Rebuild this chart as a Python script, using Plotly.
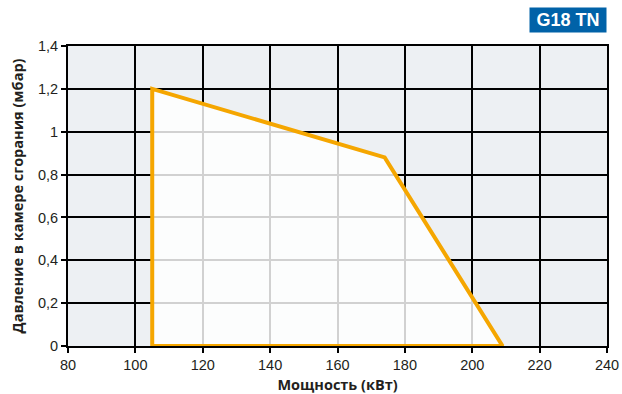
import plotly.graph_objects as go

# Data
power_kw = [105.0, 105.0, 174.0, 209.0, 105.0]
pressure_mbar = [0.0, 1.2, 0.88, 0.0, 0.0]

x_ticks = [80, 100, 120, 140, 160, 180, 200, 220, 240]
y_ticks = [0, 0.2, 0.4, 0.6, 0.8, 1.0, 1.2, 1.4]
y_tick_labels = ["0", "0,2", "0,4", "0,6", "0,8", "1", "1,2", "1,4"]

ORANGE = "#f5a600"
FONT = "Liberation Sans, Arial, sans-serif"
TFONT = "Open Sans, sans-serif"

fig = go.Figure()
fig.add_trace(go.Scatter(
    x=power_kw, y=pressure_mbar, mode="lines",
    fill="toself", fillcolor="rgba(255,255,255,0.82)",
    line=dict(color=ORANGE, width=4), hoverinfo="skip", showlegend=False,
))

fig.update_layout(
    width=622, height=394,
    margin=dict(l=68, r=15, t=46, b=48, autoexpand=False),
    paper_bgcolor="white", plot_bgcolor="#edf0f3",
    font=dict(family=FONT, size=14.5, color="#231f20"),
    xaxis=dict(
        range=[80, 240], tickvals=x_ticks, ticktext=[str(v) for v in x_ticks],
        showgrid=True, gridcolor="black", gridwidth=1.5,
        showline=True, linecolor="black", linewidth=2, mirror=True,
        ticks="outside", tickcolor="black", ticklen=5, tickwidth=1.5,
        zeroline=False, automargin=False,
        title=dict(text="<b>Мощность (кВт)</b>", font=dict(size=14.5, family=TFONT), standoff=14),
    ),
    yaxis=dict(
        range=[0, 1.4], tickvals=y_ticks, ticktext=y_tick_labels,
        showgrid=True, gridcolor="black", gridwidth=1.5,
        showline=True, linecolor="black", linewidth=2, mirror=True,
        ticks="outside", tickcolor="black", ticklen=5, tickwidth=1.5,
        zeroline=False, automargin=False,
        title=dict(text="<b>Давление в камере сгорания (мбар)</b>", font=dict(size=14.5, family=TFONT), standoff=11),
    ),
    annotations=[dict(
        text="<b>G18 TN</b>", xref="paper", yref="paper",
        x=1.0, y=1.0, xanchor="right", yanchor="bottom", xshift=0, yshift=13,
        showarrow=False, bgcolor="#0062a8", font=dict(color="white", size=18, family=FONT),
        borderpad=2, width=72,
    )],
)

fig.write_html(
    "out.html",
    config={"displayModeBar": False},
    post_script="document.body.style.margin='0';document.body.style.overflow='hidden';",
)
